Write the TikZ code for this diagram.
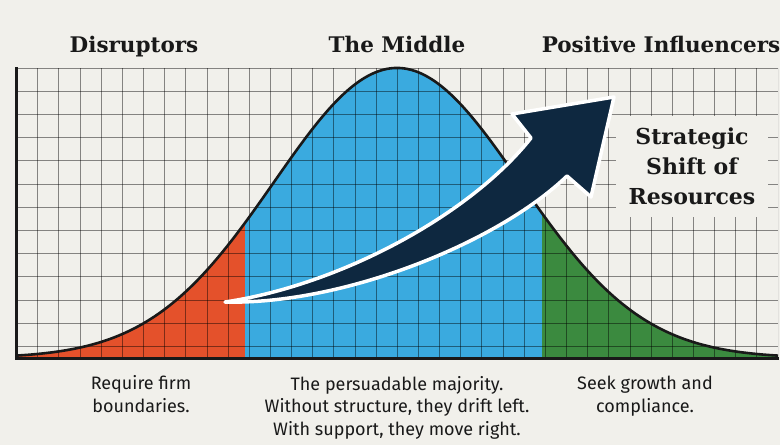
\documentclass[tikz,border=0pt]{standalone}
\usepackage{fontspec}
\setmainfont{Fira Sans}
\newfontfamily\hdfont{DejaVu Serif}
\definecolor{paper}{HTML}{F1F0EB}
\definecolor{redz}{HTML}{E4512B}
\definecolor{bluez}{HTML}{3AAADF}
\definecolor{greenz}{HTML}{3B8A3F}
\definecolor{navy}{HTML}{0E2840}
\tikzset{
  gridline/.style={draw=black, draw opacity=0.45, line width=0.65pt},
  header/.style={font=\hdfont\bfseries\fontsize{21.5}{26}\selectfont, text=black!90, inner sep=0pt},
  caption/.style={font=\fontsize{18}{22.5}\selectfont, text=black!90, align=center, inner sep=0pt},
  shiftlabel/.style={font=\hdfont\bfseries\fontsize{22}{30}\selectfont, text=black!90, align=center, fill=paper, minimum width=152pt, minimum height=101pt, inner sep=0pt},
  arrowshape/.style={fill=navy, draw=white, line width=3.5pt, line join=round},
  bellline/.style={draw=black!90, line width=2.6pt},
  axis/.style={draw=black!90, line width=3pt, line cap=rect}
}
\begin{document}
\begin{tikzpicture}[x=1pt,y=-1pt]
\useasboundingbox (0,0) rectangle (780,445);
\fill[paper] (0,0) rectangle (780,445);
% region fills under the bell curve
\fill[redz] plot[domain=16.5:245, samples=60] (\x, {358-290*exp(-0.5*((\x-397)/123)^2)}) -- (245,358) -- (16.5,358) -- cycle;
\fill[bluez] plot[domain=245:542, samples=80] (\x, {358-290*exp(-0.5*((\x-397)/123)^2)}) -- (542,358) -- (245,358) -- cycle;
\fill[greenz] plot[domain=542:778, samples=60] (\x, {358-290*exp(-0.5*((\x-397)/123)^2)}) -- (778,358) -- (542,358) -- cycle;
% grid
\begin{scope}
\clip (16.5,68) rectangle (778,358);
\foreach \i in {1,...,36} \draw[gridline] ({16.5+\i*21.15},68) -- ({16.5+\i*21.15},358);
\foreach \j in {0,...,12} \draw[gridline] (16.5,{68+\j*23.2}) -- (778,{68+\j*23.2});
\end{scope}
% bell curve outline
\draw[bellline] plot[domain=16.5:778, samples=150, smooth] (\x, {358-290*exp(-0.5*((\x-397)/123)^2)});
% axes
\coordinate (axTop) at (16.5,68);
\coordinate (axOrig) at (16.5,358);
\coordinate (axEnd) at (777,358);
\draw[axis] (axTop) -- (axOrig) -- (axEnd);
% label patch and text
\node[shiftlabel] (shift) at (692,166) {Strategic\\Shift of\\Resources};
% arrow
\coordinate (T) at (225,302);
\coordinate (A1) at (531,138);
\coordinate (B1) at (512,114);
\coordinate (tip) at (614,97);
\coordinate (B2) at (591,197);
\coordinate (A2) at (567,176);
\draw[arrowshape] (T) .. controls (340,285) and (470,215) .. (A1) -- (B1) -- (tip) -- (B2) -- (A2) .. controls (495,245) and (340,305) .. (T) -- cycle;
% headers
\node[header, anchor=base] (hL) at (134,52) {Disruptors};
\node[header, anchor=base] (hM) at (397,52) {The Middle};
\node[header, anchor=base] (hR) at (661,52) {Positive Influencers};
% captions (base = baseline of last line)
\node[caption, anchor=base] (cL) at (141,412) {Require firm\\boundaries.};
\node[caption, anchor=base] (cM) at (397,435) {The persuadable majority.\\Without structure, they drift left.\\With support, they move right.};
\node[caption, anchor=base] (cR) at (645,412) {Seek growth and\\compliance.};
\end{tikzpicture}
\end{document}
